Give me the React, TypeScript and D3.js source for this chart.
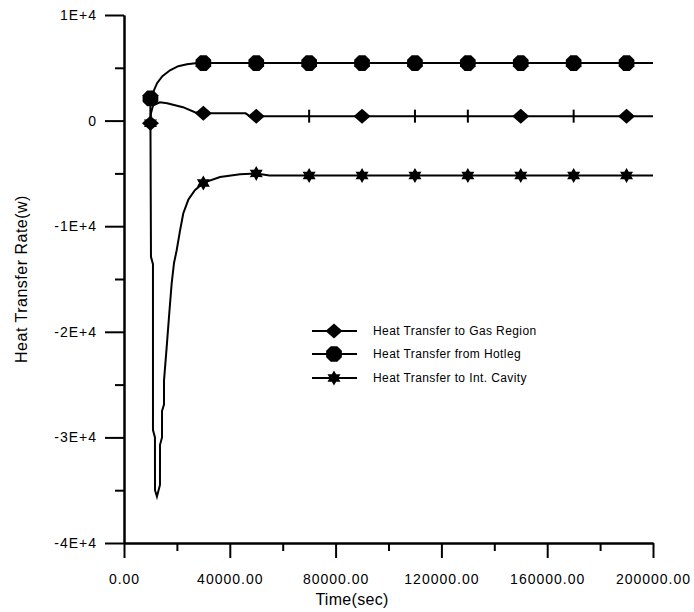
import React, { useEffect, useRef } from 'react';
import * as d3 from 'd3';

const W = 694, H = 612;
const FONT = "'Liberation Sans', Arial, sans-serif";

/* ---- data (time in s, heat transfer rate in W) ---- */
const gasT = [9950, 10000, 10200, 11000, 13600, 16300, 22300, 26800, 30000, 46000, 47500, 200000];
const gasQ = [-250, -250, 700, 1450, 1740, 1650, 1270, 800, 690, 690, 420, 420];

const hotT = [9950, 10000, 12500, 14500, 17400, 20500, 23800, 27000, 30000, 200000];
const hotQ = [-250, 2100, 3540, 4200, 4770, 5150, 5340, 5420, 5450, 5450];

const cavT = [10000, 10200, 10950, 10960, 11700, 11720, 12450, 13600, 13620, 14370, 14380, 15120, 15130,
  16150, 17130, 18030, 18900, 19900, 21200, 22400, 24300, 26800, 30000, 36300, 43900, 50000, 55000, 200000];
const cavQ = [-250, -12900, -13600, -29300, -30000, -35000, -35600, -34500, -30700, -30000, -27500, -26900, -24600,
  -21400, -18200, -15400, -13500, -12300, -10400, -8800, -7500, -6600, -5900, -5350, -5070, -5000, -5200, -5200];

/* marker samples */
const markT = [10000, 30000, 50000, 70000, 90000, 110000, 130000, 150000, 170000, 190000];
const gasMarkQ = [-250, 690, 420, 420, 420, 420, 420, 420, 420, 420];
const gasMarkKind = ['diamond', 'diamond', 'diamond', 'tick', 'diamond', 'tick', 'tick', 'diamond', 'tick', 'diamond'];
const hotMarkQ = [2100, 5450, 5450, 5450, 5450, 5450, 5450, 5450, 5450, 5450];
const cavMarkQ = [-250, -5900, -5000, -5200, -5200, -5200, -5200, -5200, -5200, -5200];

/* axes */
const xTickVals = [0, 40000, 80000, 120000, 160000, 200000];
const xTickText = ['0.00', '40000.00', '80000.00', '120000.00', '160000.00', '200000.00'];
const xMinorVals = [20000, 60000, 100000, 140000, 180000];
const yTickVals = [10000, 0, -10000, -20000, -30000, -40000];
const yTickText = ['1E+4', '0', '-1E+4', '-2E+4', '-3E+4', '-4E+4'];
const yMinorVals = [5000, -5000, -15000, -25000, -35000];

const legendNames = ['Heat Transfer to Gas Region', 'Heat Transfer from Hotleg', 'Heat Transfer to Int. Cavity'];

/* marker shapes */
const diamond = () => 'M0,-7.5L8.5,0L0,7.5L-8.5,0Z';
const octagon = () => {
  const p = d3.path();
  d3.range(8).forEach(i => {
    const a = (Math.PI / 4) * i + Math.PI / 8;
    const px = 8.5 * Math.cos(a), py = 8.5 * Math.sin(a);
    i ? p.lineTo(px, py) : p.moveTo(px, py);
  });
  p.closePath();
  return p.toString();
};
const star = () => {
  const p = d3.path();
  d3.range(12).forEach(i => {
    const a = -Math.PI / 2 + (Math.PI / 6) * i;
    const r = i % 2 ? 4.3 : 7.5;
    const px = r * Math.cos(a), py = r * Math.sin(a);
    i ? p.lineTo(px, py) : p.moveTo(px, py);
  });
  p.closePath();
  return p.toString();
};

export default function App() {
  const ref = useRef<SVGSVGElement>(null);

  useEffect(() => {
    const svg = d3.select(ref.current);
    svg.selectAll('*').remove();

    const x = d3.scaleLinear().domain([0, 200000]).range([124, 653]);
    const y = d3.scaleLinear().domain([-40000, 10000]).range([543, 15]);

    const styleAxis = (g: any) => {
      g.selectAll('path,line').attr('stroke', '#000').attr('stroke-width', 2);
      g.selectAll('text').attr('fill', '#000').attr('font-family', FONT).attr('font-size', 14).attr('letter-spacing', 1);
    };

    /* y axis */
    svg.append('g')
      .attr('transform', 'translate(124,0)')
      .call(d3.axisLeft(y).tickValues(yMinorVals).tickSize(9).tickSizeOuter(0).tickFormat(() => ''))
      .call(styleAxis);
    svg.append('g')
      .attr('transform', 'translate(124,0)')
      .call(d3.axisLeft(y).tickValues(yTickVals).tickSize(19).tickSizeOuter(0).tickPadding(8)
        .tickFormat((_, i) => yTickText[i]))
      .call(styleAxis);

    /* x axis */
    svg.append('g')
      .attr('transform', 'translate(0,543)')
      .call(d3.axisBottom(x).tickValues(xMinorVals).tickSize(8).tickSizeOuter(0).tickFormat(() => ''))
      .call(styleAxis);
    svg.append('g')
      .attr('transform', 'translate(0,543)')
      .call(d3.axisBottom(x).tickValues(xTickVals).tickSize(15).tickSizeOuter(0).tickPadding(16)
        .tickFormat((_, i) => xTickText[i]))
      .call(styleAxis);

    /* titles */
    svg.append('text')
      .attr('transform', 'translate(27,279) rotate(-90)')
      .attr('text-anchor', 'middle')
      .attr('font-family', FONT).attr('font-size', 16).attr('letter-spacing', 0.5)
      .text('Heat Transfer Rate(w)');
    svg.append('text')
      .attr('x', 352).attr('y', 605)
      .attr('text-anchor', 'middle')
      .attr('font-family', FONT).attr('font-size', 16).attr('letter-spacing', 0.3)
      .text('Time(sec)');

    /* lines */
    const line = d3.line<number>();
    const series = [[gasT, gasQ], [hotT, hotQ], [cavT, cavQ]];
    series.forEach(([ts, qs]) => {
      svg.append('path')
        .datum(ts.map((t, i) => [x(t), y(qs[i])] as [number, number]))
        .attr('fill', 'none')
        .attr('stroke', '#000')
        .attr('stroke-width', 2)
        .attr('d', line as any);
    });

    /* markers */
    const mk = svg.append('g').attr('fill', '#000');
    markT.forEach((t, i) => {
      mk.append('path').attr('transform', `translate(${x(t)},${y(cavMarkQ[i])})`).attr('d', star());
    });
    markT.forEach((t, i) => {
      mk.append('path').attr('transform', `translate(${x(t)},${y(hotMarkQ[i])})`).attr('d', octagon());
    });
    markT.forEach((t, i) => {
      const g = mk.append('g').attr('transform', `translate(${x(t)},${y(gasMarkQ[i])})`);
      if (gasMarkKind[i] === 'diamond') g.append('path').attr('d', diamond());
      else g.append('line').attr('y1', -6.5).attr('y2', 6.5).attr('stroke', '#000').attr('stroke-width', 2);
    });

    /* legend */
    const shapes = [diamond, octagon, star];
    const leg = svg.append('g');
    legendNames.forEach((name, i) => {
      const ly = [331, 354, 378][i];
      leg.append('line').attr('x1', 312).attr('x2', 357).attr('y1', ly).attr('y2', ly)
        .attr('stroke', '#000').attr('stroke-width', 2);
      leg.append('path').attr('transform', `translate(334,${ly})`).attr('d', shapes[i]()).attr('fill', '#000');
      leg.append('text')
        .attr('x', 373).attr('y', ly + 4)
        .attr('font-family', FONT).attr('font-size', 12).attr('letter-spacing', 0.4)
        .text(name);
    });
  }, []);

  return (
    <svg
      ref={ref}
      width={W}
      height={H}
      style={{ position: 'absolute', left: 0, top: 0, background: '#fff', display: 'block' }}
    />
  );
}
